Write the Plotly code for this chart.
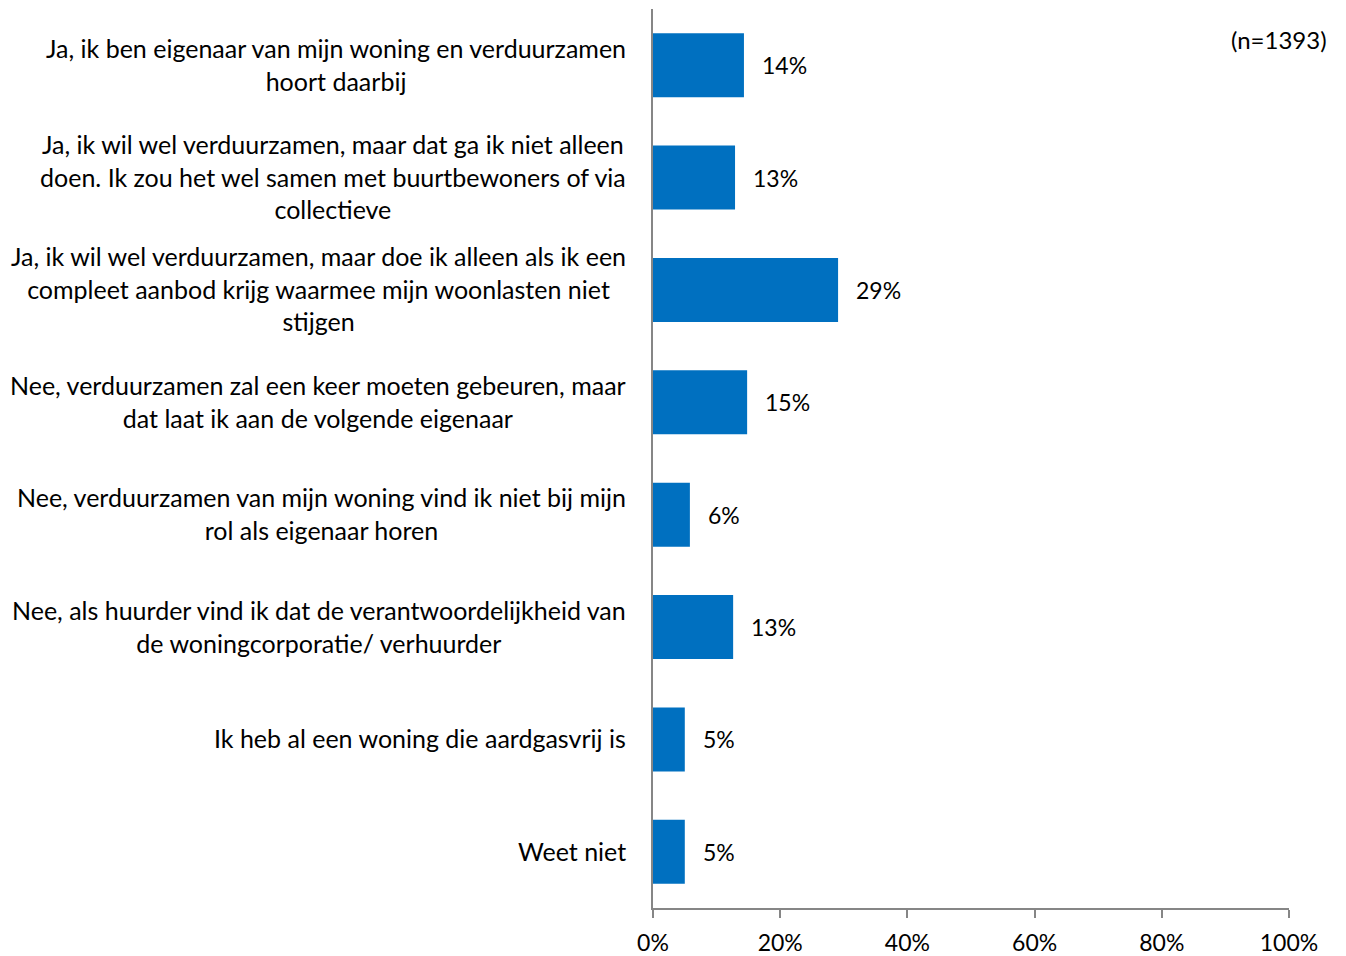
import plotly.graph_objects as go

categories = [
    "Ja, ik ben eigenaar van mijn woning en verduurzamen<br>hoort daarbij",
    "Ja, ik wil wel verduurzamen, maar dat ga ik niet alleen<br>doen. Ik zou het wel samen met buurtbewoners of via<br>collectieve",
    "Ja, ik wil wel verduurzamen, maar doe ik alleen als ik een<br>compleet aanbod krijg waarmee mijn woonlasten niet<br>stijgen",
    "Nee, verduurzamen zal een keer moeten gebeuren, maar<br>dat laat ik aan de volgende eigenaar",
    "Nee, verduurzamen van mijn woning vind ik niet bij mijn<br>rol als eigenaar horen",
    "Nee, als huurder vind ik dat de verantwoordelijkheid van<br>de woningcorporatie/ verhuurder",
    "Ik heb al een woning die aardgasvrij is",
    "Weet niet",
]
values = [0.143, 0.129, 0.291, 0.148, 0.058, 0.126, 0.050, 0.050]
value_labels = ["14%", "13%", "29%", "15%", "6%", "13%", "5%", "5%"]
tick_values = [0, 0.2, 0.4, 0.6, 0.8, 1.0]
tick_labels = ["0%", "20%", "40%", "60%", "80%", "100%"]
sample_note = "(n=1393)"

FONT = "Lato"
FS_CAT = 25
FS_NUM = 23
ids = list(range(len(categories)))

fig = go.Figure()
fig.add_trace(go.Bar(
    x=values, y=ids, orientation="h",
    marker=dict(color="#0070C0", line=dict(width=0)),
    hoverinfo="skip",
))

annotations = []
for i, (cat, v, lab) in enumerate(zip(categories, values, value_labels)):
    annotations.append(dict(
        x=0, xref="paper", y=i, yref="y", text=cat, showarrow=False,
        xanchor="right", yanchor="middle", align="center", xshift=-25, yshift=1,
        font=dict(family=FONT, size=FS_CAT, color="#000000"),
    ))
    annotations.append(dict(
        x=v, xref="x", y=i, yref="y", text=lab, showarrow=False,
        xanchor="left", yanchor="middle", xshift=16,
        font=dict(family=FONT, size=FS_NUM, color="#000000"),
    ))
annotations.append(dict(
    x=1, xref="paper", y=1, yref="paper", text=sample_note, showarrow=False,
    xanchor="right", yanchor="top", xshift=40, yshift=-14,
    font=dict(family=FONT, size=24, color="#000000"),
))

fig.update_layout(
    width=1346, height=956,
    margin=dict(l=653, r=57, t=9, b=48, autoexpand=False),
    paper_bgcolor="white", plot_bgcolor="white",
    showlegend=False,
    bargap=0.43,
    annotations=annotations,
    font=dict(family=FONT, size=FS_NUM, color="#000000"),
    xaxis=dict(
        range=[0, 1], tickvals=tick_values, ticktext=tick_labels,
        showgrid=False, zeroline=False, showline=True, linecolor="#868686", linewidth=2,
        ticks="outside", ticklen=8, tickcolor="#868686", tickwidth=2,
        ticklabelstandoff=5, automargin=False,
        tickfont=dict(family=FONT, size=FS_NUM, color="#000000"),
    ),
    yaxis=dict(
        range=[len(categories) - 0.5, -0.5], tickvals=ids, showticklabels=False,
        showgrid=False, zeroline=False, showline=True, linecolor="#868686", linewidth=2,
        ticks="", automargin=False,
    ),
)

fig.write_html(
    "out.html",
    config={"displayModeBar": False},
    post_script="document.body.style.margin='0';document.body.style.overflow='hidden';",
)
